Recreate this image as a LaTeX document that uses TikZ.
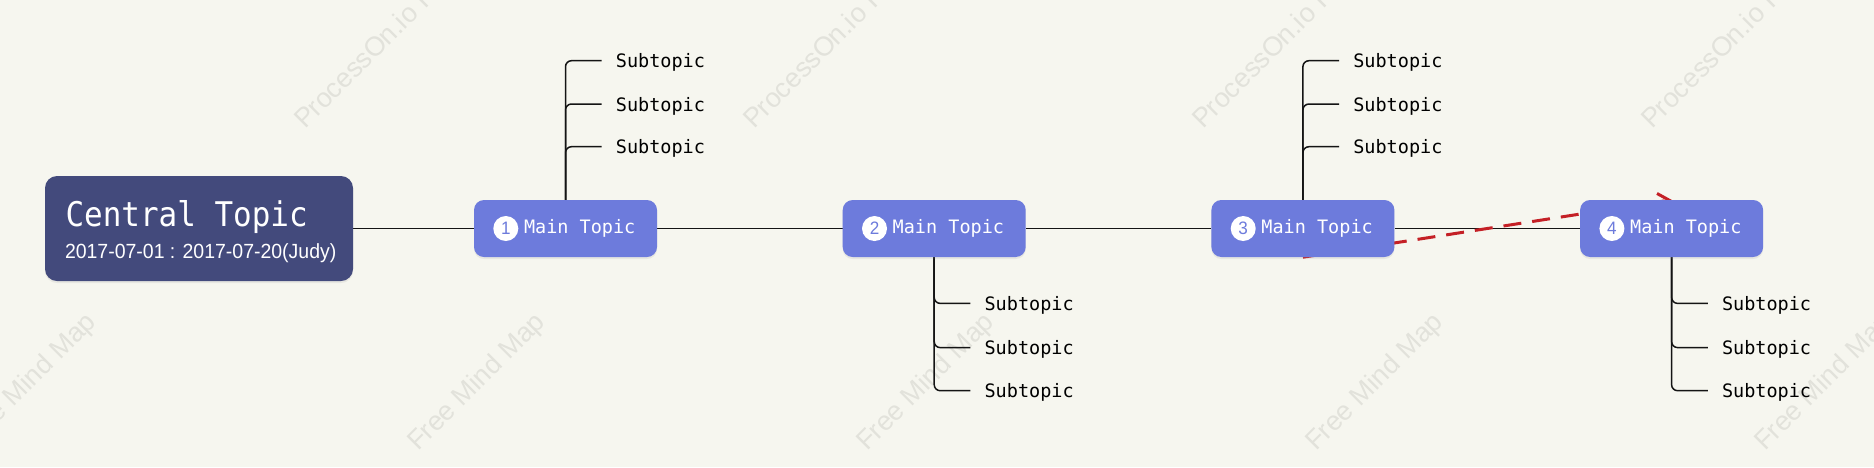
\documentclass[tikz,border=0pt]{standalone}
\usepackage{fontspec}
\usetikzlibrary{arrows.meta,shadows,calc}
\newfontfamily\monof{DejaVu Sans Mono}
\newfontfamily\monofc{DejaVu Sans Mono}[FakeStretch=0.91]
\newfontfamily\datef{Liberation Sans}[FakeStretch=0.95]
\newfontfamily\wmf{Liberation Sans}
\definecolor{bgc}{RGB}{246,246,239}
\definecolor{centralc}{RGB}{67,74,124}
\definecolor{mainc}{RGB}{109,123,220}
\definecolor{wmc}{RGB}{226,226,219}
\definecolor{linec}{RGB}{20,20,20}
\definecolor{redc}{RGB}{196,32,38}
\pgfdeclarelayer{bglayer}
\pgfdeclarelayer{linelayer}
\pgfsetlayers{bglayer,linelayer,main}
\begin{document}
\begin{tikzpicture}[x=1pt,y=-1pt,
  wm/.style={anchor=base west,rotate=45,inner sep=0pt,text=wmc,font=\wmf\fontsize{27}{27}\selectfont},
  central/.style={fill=centralc,rounded corners=12pt,minimum width=308pt,minimum height=105pt,inner sep=0pt,
    drop shadow={shadow xshift=0pt,shadow yshift=-2pt,opacity=0.12}},
  ctitle/.style={anchor=base west,inner sep=0pt,text=white,font=\monofc\fontsize{34}{34}\selectfont},
  cdate/.style={anchor=base west,inner sep=0pt,text=white,font=\datef\fontsize{20.5}{20.5}\selectfont},
  maintopic/.style={fill=mainc,rounded corners=10pt,minimum width=183pt,minimum height=57pt,inner sep=0pt,
    drop shadow={shadow xshift=0pt,shadow yshift=-2pt,opacity=0.12}},
  numcirc/.style={circle,fill=white,minimum size=25pt,inner sep=0pt,text=mainc,font=\datef\fontsize{18}{18}\selectfont},
  mainlabel/.style={anchor=base west,inner sep=0pt,text=white,font=\monof\fontsize{18.5}{18.5}\selectfont},
  subtopic/.style={anchor=west,inner sep=0pt,text=black,text height=14.4pt,text depth=0pt,
    font=\monof\fontsize{18.5}{18.5}\selectfont},
  branch/.style={draw=linec,line width=1.5pt,rounded corners=6pt},
  relation/.style={draw=redc,line width=3pt,dash pattern=on 18pt off 11pt,-{Straight Barb[length=11pt,width=17pt]}}
]
\begin{pgfonlayer}{bglayer}
  \fill[bgc] (0,0) rectangle (1874,467);
  \begin{scope}
    \clip (0,0) rectangle (1874,467);
    \foreach \k in {-1,0,1,2,3} {
      \node[wm] at ({305+449*\k},130) {ProcessOn.io Free Mind Map};
      \node[wm] at ({418+449*\k},452) {Free Mind Map};
    }
  \end{scope}
\end{pgfonlayer}
\useasboundingbox (0,0) rectangle (1874,467);

% central topic
\node[central] (c) at (199,228.5) {};
\node[ctitle] (ct) at ([xshift=20.5pt,yshift=-50.7pt]c.north west) {Central Topic};
\node[cdate] (cd) at ([xshift=20pt,yshift=-83pt]c.north west) {2017-07-01 : 2017-07-20(Judy)};

% main topics
\node[maintopic] (m1) at (565.5,228.5) {};
\node[maintopic] (m2) at (934.2,228.5) {};
\node[maintopic] (m3) at (1302.9,228.5) {};
\node[maintopic] (m4) at (1671.6,228.5) {};
\foreach \i in {1,2,3,4} {
  \node[numcirc] (n\i) at ([xshift=32pt]m\i.west) {\i};
  \node[mainlabel] (l\i) at ([xshift=50pt,yshift=-4.5pt]m\i.west) {Main Topic};
}

% subtopics
\node[subtopic] (s1a) at (615.7,60.7) {Subtopic};
\node[subtopic] (s1b) at (615.7,104) {Subtopic};
\node[subtopic] (s1c) at (615.7,146.7) {Subtopic};
\node[subtopic] (s2a) at (984.4,303.4) {Subtopic};
\node[subtopic] (s2b) at (984.4,347.6) {Subtopic};
\node[subtopic] (s2c) at (984.4,390.7) {Subtopic};
\node[subtopic] (s3a) at (1353.1,60.7) {Subtopic};
\node[subtopic] (s3b) at (1353.1,104) {Subtopic};
\node[subtopic] (s3c) at (1353.1,146.7) {Subtopic};
\node[subtopic] (s4a) at (1721.8,303.4) {Subtopic};
\node[subtopic] (s4b) at (1721.8,347.6) {Subtopic};
\node[subtopic] (s4c) at (1721.8,390.7) {Subtopic};

\begin{pgfonlayer}{linelayer}
  \draw[branch] (c.east) -- (m1.west);
  \draw[branch] (m1.east) -- (m2.west);
  \draw[branch] (m2.east) -- (m3.west);
  \draw[branch] (m3.east) -- (m4.west);
  \foreach \s in {a,b,c} {
    \draw[branch] (m1.north) |- ([xshift=-14pt]s1\s.west);
    \draw[branch] (m2.south) |- ([xshift=-14pt]s2\s.west);
    \draw[branch] (m3.north) |- ([xshift=-14pt]s3\s.west);
    \draw[branch] (m4.south) |- ([xshift=-14pt]s4\s.west);
  }
  \draw[relation] (m3.south) -- (m4.north);
\end{pgfonlayer}
\end{tikzpicture}
\end{document}
